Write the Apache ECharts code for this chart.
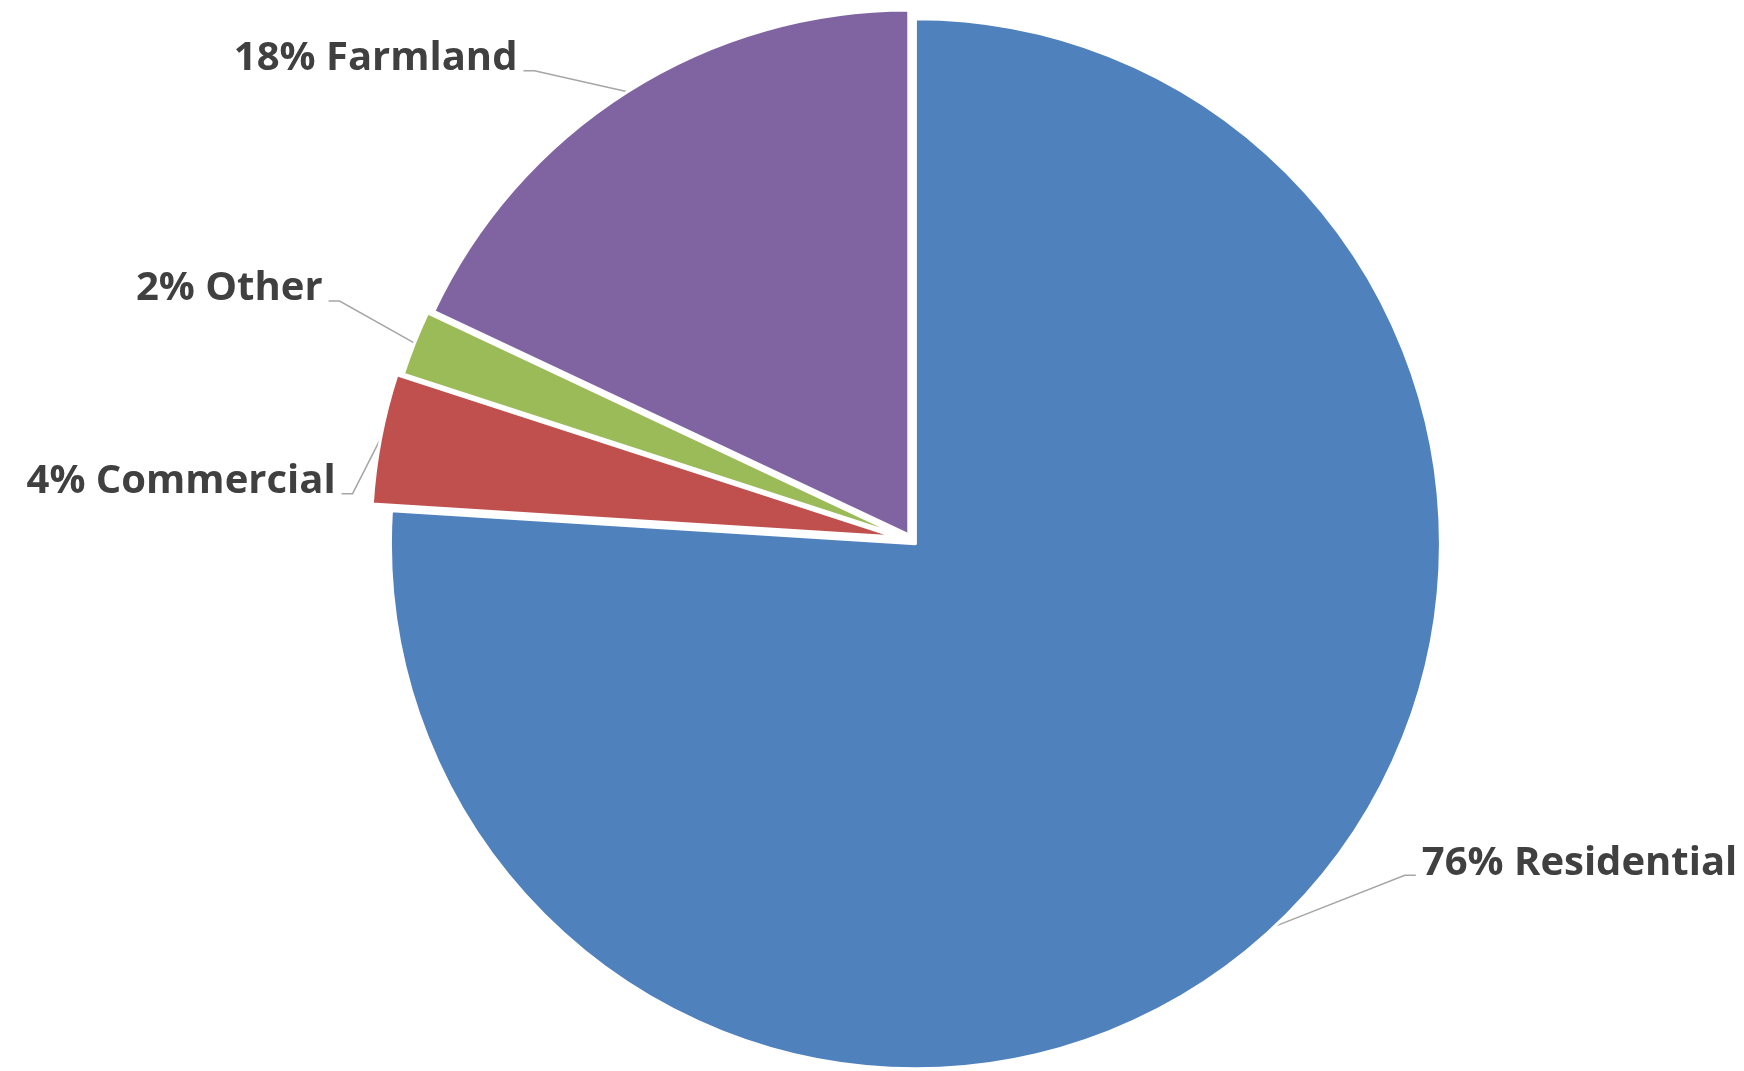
<!DOCTYPE html>
<html>
<head>
<meta charset="utf-8">
<script src="https://cdn.jsdelivr.net/npm/echarts@6/dist/echarts.min.js"></script>
<style>
html, body { margin: 0; padding: 0; background: #fff; }
#landUse { width: 1744px; height: 1071px; }
</style>
</head>
<body>
<div id="landUse"></div>
<script>
// 数据
var categories = ['Residential', 'Commercial', 'Other', 'Farmland'];
var shares = [76, 4, 2, 18];
var sliceColors = ['#4F81BD', '#C0504D', '#9BBB59', '#8064A2'];

// how far each slice is pulled out of the pie (px)
var sliceExplode = [5, 16, 10, 6];
// elbow of each leader line, measured from the slice's edge anchor
var labelElbow = [[141, -51], [-39, 55], [-86, -42], [-104, -21]];

var pieCenter = [912, 540];
var pieRadius = 525;

var landUseChart = echarts.init(document.getElementById('landUse'));

// one series per slice, so each slice can have its own explosion
var sliceSeries = categories.map(function (cat, i) {
  return {
    type: 'pie',
    center: pieCenter,
    radius: pieRadius,
    startAngle: 90,
    clockwise: true,
    selectedMode: 'single',
    selectedOffset: sliceExplode[i],
    silent: true,
    emphasis: { disabled: true },
    label: { show: false },
    labelLine: { show: false },
    select: { itemStyle: { color: sliceColors[i], borderColor: '#fff', borderWidth: 3 } },
    data: categories.map(function (name, j) {
      return {
        name: name,
        value: shares[j],
        selected: j === i,
        itemStyle: j === i
          ? { color: sliceColors[i], borderColor: '#fff', borderWidth: 3 }
          : { color: 'rgba(0,0,0,0)', borderWidth: 0 }
      };
    })
  };
});

// same values again, invisible, only to carry the labels
var labelSeries = {
  type: 'pie',
  center: pieCenter,
  radius: pieRadius,
  startAngle: 90,
  clockwise: true,
  selectedMode: false,
  avoidLabelOverlap: false,
  silent: true,
  itemStyle: { color: 'rgba(0,0,0,0)', borderWidth: 0 },
  emphasis: { disabled: true },
  label: {
    show: true,
    position: 'outside',
    formatter: function (p) { return p.value + '% ' + p.name; },
    color: '#404040',
    fontFamily: 'Open Sans',
    fontWeight: 'bold',
    fontSize: 40
  },
  labelLine: {
    show: true,
    length: 15,
    length2: 10,
    lineStyle: { color: '#A6A6A6', width: 1.5 }
  },
  labelLayout: function (params) {
    var p0 = params.labelLinePoints[0];
    var p1 = params.labelLinePoints[1];
    var ux = p1[0] - p0[0], uy = p1[1] - p0[1];
    var ul = Math.sqrt(ux * ux + uy * uy) || 1;
    var ex = sliceExplode[params.dataIndex];
    // start of the leader line on the exploded slice's rim
    var a = [p0[0] + ux / ul * ex, p0[1] + uy / ul * ex];
    var off = labelElbow[params.dataIndex];
    var side = off[0] < 0 ? 1 : -1;
    var jx = a[0] + off[0];
    var jy = a[1] + off[1];
    return {
      x: jx - side * 6,
      y: jy - 12,
      labelLinePoints: [a, [jx + side * 11, jy], [jx, jy]]
    };
  },
  data: categories.map(function (name, i) {
    return { name: name, value: shares[i] };
  })
};

var landUseOption = {
  animation: false,
  series: sliceSeries.concat([labelSeries])
};
// 使用刚指定的配置项和数据显示图表。
landUseChart.setOption(landUseOption);
</script>
</body>
</html>
